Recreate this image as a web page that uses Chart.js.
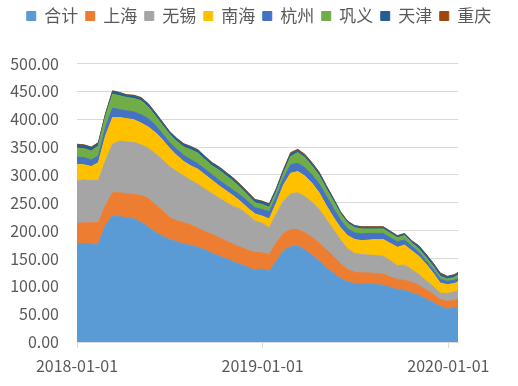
<!DOCTYPE html>
<html>
<head>
<meta charset="utf-8">
<script src="https://cdn.jsdelivr.net/npm/chart.js@4/dist/chart.umd.min.js"></script>
<style>
  html, body { margin: 0; padding: 0; background: #fff; }
  #wrap { width: 518px; height: 386px; }
</style>
</head>
<body>
<div id="wrap"><canvas id="stackChart" width="518" height="386"></canvas></div>
<script>
// days since 2018-01-01 (biweekly readings)
const days = [0,14,28,42,56,70,84,98,112,126,140,154,168,182,196,210,224,238,252,266,280,294,308,322,336,350,364,378,392,406,420,434,448,462,476,490,504,518,532,546,560,574,588,602,616,630,644,658,672,686,700,714,728,742,749];
const tickDays = [0, 365, 730];
const tickLabels = ['2018-01-01', '2019-01-01', '2020-01-01'];
const yTicks = [0, 50, 100, 150, 200, 250, 300, 350, 400, 450, 500];

const seriesNames = ['合计', '上海', '无锡', '南海', '杭州', '巩义', '天津', '重庆'];
const seriesColors = ['#5B9BD5', '#ED7D31', '#A5A5A5', '#FFC000', '#4472C4', '#70AD47', '#255E91', '#9E480E'];

const heji = [177,177,176,175,210,226,225,223,221,215,206,197,190,184,180,176,173,170,165,159,154,149,144,139,134,129,131,127,145,164,171,172,165,156,145,133,124,114,108,105,104,104,103,102,98,94,93,88,84,77,71,64,59,61,63];
const shanghai = [36,37,38,39,35,42,43,43,44,48,52,50,46,39,38,38,37,34,33,34,33,32,31,31,31,32,29,30,33,31,31,30,31,32,33,33,30,27,22,20,20,20,20,20,19,18,18,19,18,17,15,12,14,14,14];
const wuxi = [76,77,76,76,80,87,93,93,93,91,90,91,91,92,88,84,80,79,76,73,71,69,68,68,63,56,53,48,52,58,64,66,65,63,60,54,48,42,37,34,33,32,32,32,29,25,27,23,19,16,14,12,14,15,15];
const nanhai = [30,27,25,32,45,48,42,42,41,39,38,38,36,33,29,26,26,27,26,24,22,21,19,14,12,13,13,16,20,29,37,38,37,34,30,25,22,22,24,25,25,27,29,30,31,33,36,34,33,30,24,18,16,15,16];
const hangzhou = [13,13,12,12,15,17,14,14,14,15,15,13,11,10,11,11,11,10,10,10,10,10,10,11,12,11,12,13,12,12,15,15,15,15,16,17,16,14,12,12,12,12,11,11,10,10,9,8,7,6,7,7,6,6,6];
const gongyi = [16,16,16,18,20,25,25,24,24,25,21,17,15,15,14,15,18,19,17,16,18,17,16,13,11,9,9,8,8,9,15,19,18,16,15,13,13,11,10,9,9,8,8,8,8,7,8,6,6,6,5,5,4,5,6];
const tianjin = [6,6,6,5,4,5,5,4,5,5,5,5,5,4,5,5,5,5,5,5,5,5,5,5,5,5,5,5,5,5,5,4,4,5,5,5,4,3,3,3,3,3,3,3,3,3,3,3,5,5,5,5,4,4,4];
const chongqing = [1,1,1,1,1,1,1,1,1,1,1,1,1,1,1,1,1,1,1,1,1,1,1,1,1,1,1,1,1,2,2,2,2,1,1,1,1,1,1,1,1,1,1,1,1,1,1,1,1,1,1,1,1,1,1];

const seriesValues = [heji, shanghai, wuxi, nanhai, hangzhou, gongyi, tianjin, chongqing];

const cjkFont = '"Noto Sans CJK SC", "Noto Sans", sans-serif';

const datasets = seriesNames.map((name, i) => ({
    label: name,
    data: seriesValues[i].map((v, j) => ({ x: days[j], y: v })),
    backgroundColor: seriesColors[i],
    borderColor: seriesColors[i],
    borderWidth: 1,
    pointRadius: 0,
    tension: 0,
    fill: i === 0 ? 'origin' : '-1'
}));

// extra space under the legend, like the excel layout
const legendGap = {
    id: 'legendGap',
    beforeInit(chart) {
        const fit = chart.legend.fit;
        chart.legend.fit = function () {
            fit.call(this);
            this.height += 29;
        };
    }
};

new Chart(document.getElementById('stackChart'), {
    type: 'line',
    data: { datasets: datasets },
    plugins: [legendGap],
    options: {
        responsive: false,
        animation: false,
        layout: { padding: 0 },
        plugins: {
            legend: {
                position: 'top',
                labels: {
                    color: '#595959',
                    font: { family: cjkFont, size: 17 },
                    boxWidth: 9,
                    boxHeight: 9,
                    padding: 7.5
                }
            },
            tooltip: { enabled: false }
        },
        scales: {
            x: {
                type: 'linear',
                min: days[0],
                max: days[days.length - 1],
                afterBuildTicks: axis => { axis.ticks = tickDays.map(v => ({ value: v })); },
                afterFit: axis => { axis.height = 44; },
                ticks: {
                    color: '#595959',
                    font: { family: cjkFont, size: 16 },
                    padding: 8,
                    maxRotation: 0,
                    autoSkip: false,
                    callback: v => tickLabels[tickDays.indexOf(v)]
                },
                grid: { drawOnChartArea: false, drawTicks: true, tickLength: 6, color: '#D9D9D9' },
                border: { color: '#D9D9D9' }
            },
            y: {
                stacked: true,
                min: 0,
                max: 500,
                afterBuildTicks: axis => { axis.ticks = yTicks.map(v => ({ value: v })); },
                afterFit: axis => { axis.width = 77; },
                ticks: {
                    color: '#595959',
                    font: { family: cjkFont, size: 16 },
                    padding: 18,
                    callback: v => v.toFixed(2)
                },
                grid: { color: '#D9D9D9', drawTicks: false },
                border: { display: false }
            },
            // empty axis that only keeps the right margin
            yRight: {
                position: 'right',
                display: true,
                afterFit: axis => { axis.width = 60; },
                ticks: { display: false },
                grid: { display: false },
                border: { display: false }
            }
        }
    }
});
</script>
</body>
</html>
